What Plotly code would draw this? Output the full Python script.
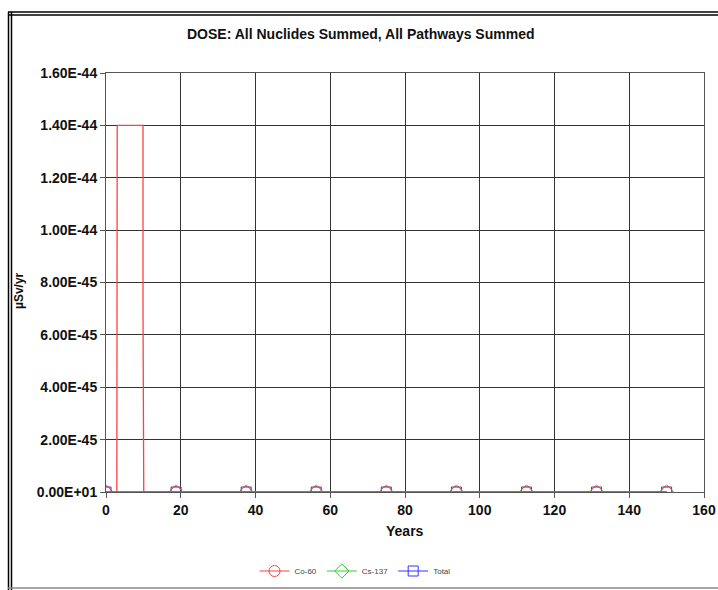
import plotly.graph_objects as go

# Data
co60_x = [0, 2.9, 3.0, 9.9, 9.9, 10.1, 18.75, 37.5, 56.25, 75, 93.75, 112.5, 131.25, 150]
co60_y = [0, 0, 1.4e-44, 1.4e-44, 7.0e-45, 0, 0, 0, 0, 0, 0, 0, 0, 0]
marker_x = [0, 18.75, 37.5, 56.25, 75, 93.75, 112.5, 131.25, 150]
cs137_y = [0, 0, 0, 0, 0, 0, 0, 0, 0]
total_y = [0, 0, 0, 0, 0, 0, 0, 0, 0]

ytick_vals = [0, 2e-45, 4e-45, 6e-45, 8e-45, 1e-44, 1.2e-44, 1.4e-44, 1.6e-44]
ytick_text = ["0.00E+01", "2.00E-45", "4.00E-45", "6.00E-45", "8.00E-45",
              "1.00E-44", "1.20E-44", "1.40E-44", "1.60E-44"]
xtick_vals = [0, 20, 40, 60, 80, 100, 120, 140, 160]

fig = go.Figure()

fig.add_trace(go.Scatter(x=marker_x, y=cs137_y, mode="lines+markers", name="Cs-137", legendrank=2,
                         line=dict(color="#33cc33", width=1),
                         marker=dict(symbol="diamond-open", size=11, color="#33cc33", line=dict(width=1))))
fig.add_trace(go.Scatter(x=marker_x, y=total_y, mode="lines+markers", name="Total", legendrank=3,
                         line=dict(color="#3333ff", width=1),
                         marker=dict(symbol="square-open", size=10, color="#3333ff", line=dict(width=1))))
fig.add_trace(go.Scatter(x=co60_x, y=co60_y, mode="lines", name="Co-60", showlegend=False,
                         line=dict(color="#ff4040", width=1.3)))
fig.add_trace(go.Scatter(x=marker_x, y=[0] * len(marker_x), mode="lines+markers", name="Co-60", legendrank=1,
                         line=dict(color="#ff4040", width=1),
                         marker=dict(symbol="circle-open", size=11, color="#ff4040", line=dict(width=1))))

W, H = 718, 590
pl, pr, pt, pb = 106, 704, 73, 492
def px(x):
    return (x - pl) / (pr - pl)
def py(y):
    return (pb - y) / (pb - pt)

tickfont = dict(size=14, family="Liberation Sans, Arial", color="#111111", weight="bold")

fig.update_layout(
    width=W, height=H,
    margin=dict(l=pl, r=W - pr, t=pt, b=H - pb, autoexpand=False),
    paper_bgcolor="white", plot_bgcolor="white",
    font=dict(family="Liberation Sans, Arial", color="#000000"),
    xaxis=dict(range=[0, 160], tickvals=xtick_vals, showgrid=True, gridcolor="#333333", gridwidth=1,
               showline=True, linecolor="#555555", linewidth=1, mirror=True, automargin=False,
               ticks="outside", ticklen=5, tickcolor="#555555", zeroline=False, tickfont=tickfont),
    yaxis=dict(range=[0, 1.6e-44], tickvals=ytick_vals, ticktext=ytick_text,
               showgrid=True, gridcolor="#333333", gridwidth=1, automargin=False,
               showline=True, linecolor="#555555", linewidth=1, mirror=True,
               ticks="outside", ticklen=5, tickcolor="#555555", zeroline=False, tickfont=tickfont),
    legend=dict(orientation="h", x=px(355), xanchor="center", y=py(571), yanchor="middle",
                font=dict(size=8, color="#444444"), traceorder="normal", itemwidth=30,
                bgcolor="rgba(0,0,0,0)"),
    showlegend=True,
)

fig.add_annotation(text="<b>DOSE: All Nuclides Summed, All Pathways Summed</b>", xref="paper", yref="paper",
                   x=px(361), y=py(34), xanchor="center", yanchor="middle", showarrow=False,
                   font=dict(size=14, color="#111111"))
fig.add_annotation(text="<b>Years</b>", xref="paper", yref="paper",
                   x=px(405), y=py(531), xanchor="center", yanchor="middle", showarrow=False,
                   font=dict(size=14, color="#111111"))
fig.add_annotation(text="<b>µSv/yr</b>", xref="paper", yref="paper", textangle=-90,
                   x=px(19), y=py(291), xanchor="center", yanchor="middle", showarrow=False,
                   font=dict(size=12, color="#111111"))

for xv in [8.5, 11.5]:
    fig.add_shape(type="line", xref="paper", yref="paper", x0=px(xv), x1=px(xv), y0=py(12), y1=py(590),
                  line=dict(color="#000000", width=1.5))
for yv in [12, 15]:
    fig.add_shape(type="line", xref="paper", yref="paper", x0=px(8), x1=px(718), y0=py(yv), y1=py(yv),
                  line=dict(color="#000000", width=1.5))
fig.add_shape(type="line", xref="paper", yref="paper", x0=px(8), x1=px(718), y0=py(588), y1=py(588),
              line=dict(color="#888888", width=1.5))

fig.write_html("out.html")
